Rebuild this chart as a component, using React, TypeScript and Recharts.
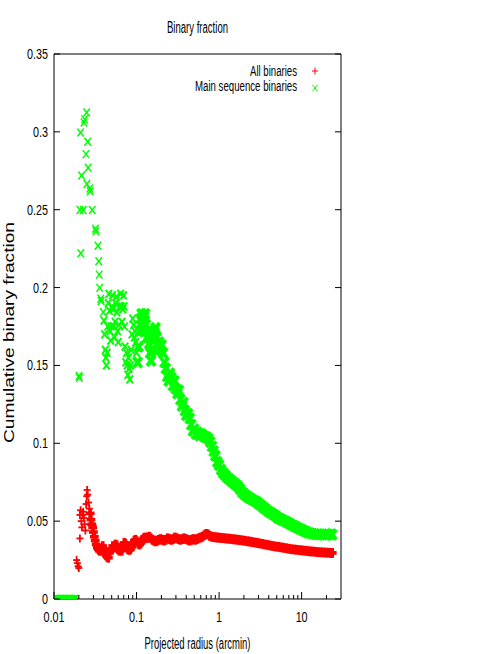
import React from "react";
import { ScatterChart, Scatter, XAxis, YAxis, Legend, Label } from "recharts";

// radii where both samples still have zero binaries
const zeroRadius = [
  0.0102, 0.0106, 0.011, 0.0114, 0.0118, 0.0122, 0.0127, 0.0132, 0.0137,
  0.0142, 0.0147, 0.0153, 0.0159, 0.0165, 0.0171, 0.0177, 0.0182,
];

// all binaries
const allRadius = [
  0.0188, 0.0192, 0.0196, 0.02, 0.0206, 0.0206, 0.021, 0.0214, 0.0218, 0.0222,
  0.0226, 0.023, 0.0235, 0.024, 0.0245, 0.0249, 0.0252, 0.0256, 0.0262, 0.0268,
  0.0274, 0.028, 0.0287, 0.0294, 0.03, 0.0308, 0.0316, 0.0325, 0.0335, 0.0345,
  0.0355, 0.0366, 0.0378, 0.039, 0.0402, 0.0415, 0.0428, 0.0442, 0.0455, 0.047,
  0.0485, 0.05, 0.0517, 0.0535, 0.0555, 0.0575, 0.0595, 0.0617, 0.064, 0.0662,
  0.0685, 0.071, 0.0735, 0.076, 0.0787, 0.0815, 0.0845, 0.0875, 0.0905, 0.094,
  0.0975, 0.101, 0.105, 0.109, 0.113, 0.117, 0.122, 0.127, 0.132, 0.137, 0.143,
  0.149, 0.156, 0.163, 0.17, 0.178, 0.186, 0.195, 0.205, 0.215, 0.226, 0.238,
  0.25, 0.263, 0.277, 0.292, 0.307, 0.323, 0.34, 0.358, 0.377, 0.397, 0.418,
  0.44, 0.463, 0.487, 0.513, 0.54, 0.568, 0.598, 0.63, 0.663, 0.698, 0.735,
  0.774, 0.815, 0.858, 0.903, 0.95, 1.0, 1.06, 1.12, 1.19, 1.26, 1.34, 1.42,
  1.51, 1.6, 1.7, 1.8, 1.92, 2.05, 2.2, 2.35, 2.5, 2.7, 2.9, 3.1, 3.35, 3.6,
  3.9, 4.2, 4.5, 4.85, 5.2, 5.6, 6.0, 6.5, 7.0, 7.5, 8.1, 8.7, 9.4, 10.1, 10.9,
  11.7, 12.6, 13.6, 14.6, 15.7, 16.9, 18.2, 19.6, 21.1, 22.7, 23.5,
];
const allFraction = [
  0.025, 0.023, 0.021, 0.0199, 0.0389, 0.054, 0.057, 0.05, 0.046, 0.054,
  0.056, 0.052, 0.048, 0.044, 0.061, 0.066, 0.07, 0.067, 0.062, 0.058,
  0.055, 0.051, 0.048, 0.046, 0.043, 0.04, 0.0375, 0.035, 0.033, 0.032,
  0.031, 0.032, 0.031, 0.034, 0.032, 0.03, 0.028, 0.027, 0.0265, 0.03,
  0.032, 0.0315, 0.034, 0.033, 0.035, 0.0345, 0.032, 0.031, 0.0325, 0.031,
  0.034, 0.036, 0.0355, 0.034, 0.032, 0.0315, 0.032, 0.0335, 0.036, 0.0375,
  0.038, 0.037, 0.0355, 0.035, 0.036, 0.038, 0.039, 0.0395, 0.039, 0.0395, 0.04,
  0.039, 0.038, 0.0375, 0.037, 0.0375, 0.038, 0.0385, 0.038, 0.0375, 0.038, 0.039,
  0.0385, 0.038, 0.0385, 0.0395, 0.039, 0.0385, 0.038, 0.0385, 0.039, 0.0385, 0.038,
  0.0375, 0.038, 0.0385, 0.038, 0.0385, 0.039, 0.0395, 0.04, 0.041, 0.0418, 0.0415,
  0.0405, 0.04, 0.0398, 0.0396, 0.0395, 0.0394, 0.0392, 0.0391, 0.0389, 0.0388, 0.0387, 0.0385,
  0.0383, 0.0382, 0.038, 0.0378, 0.0376, 0.0374, 0.0371, 0.0369, 0.0366, 0.0363, 0.036, 0.0357, 0.0354, 0.035,
  0.0347, 0.0343, 0.034, 0.0337, 0.0335, 0.0332, 0.0329, 0.0326, 0.0323, 0.032, 0.0318, 0.0316, 0.0314, 0.0312, 0.031,
  0.0308, 0.0306, 0.0305, 0.0303, 0.0301, 0.03, 0.0299, 0.0298, 0.0297, 0.0296, 0.0296,
];

// main sequence binaries
const msRadius = [
  0.0201, 0.0203, 0.0206, 0.021, 0.0211, 0.0216, 0.0226, 0.0231, 0.0235, 0.0244,
  0.0249, 0.025, 0.0256, 0.026, 0.0272, 0.0274, 0.0291, 0.0318, 0.0322, 0.0341,
  0.0348, 0.0353, 0.0357, 0.0369, 0.0372, 0.0395, 0.0403,
  0.041, 0.0418, 0.0425, 0.0432, 0.044, 0.0447, 0.0455, 0.0462, 0.047, 0.0478,
  0.0486, 0.0494, 0.0503, 0.0512, 0.052, 0.053, 0.054, 0.055, 0.056, 0.057,
  0.058, 0.059, 0.06, 0.0612, 0.0625, 0.064, 0.0655, 0.0668, 0.068, 0.0695,
  0.0705, 0.0715, 0.0725, 0.074, 0.0755, 0.077, 0.0785, 0.08, 0.0815, 0.083,
  0.0845, 0.086, 0.088, 0.09, 0.092, 0.094, 0.096, 0.098, 0.1, 0.103, 0.106,
  0.109, 0.112, 0.115, 0.118, 0.121, 0.124, 0.127, 0.13, 0.134, 0.138, 0.142,
  0.146, 0.15, 0.155, 0.16, 0.165, 0.17, 0.176, 0.182, 0.188, 0.195, 0.202,
  0.21, 0.218, 0.226, 0.235, 0.245, 0.255, 0.265, 0.276, 0.288, 0.3, 0.313,
  0.326, 0.34, 0.355, 0.37, 0.385, 0.4, 0.42, 0.44, 0.46, 0.48, 0.5, 0.525,
  0.55, 0.58, 0.61, 0.64, 0.67, 0.7, 0.74, 0.78, 0.82, 0.86, 0.9, 0.95, 1.0,
  1.06, 1.12, 1.19, 1.26, 1.34, 1.42, 1.51, 1.6, 1.7, 1.8, 1.92, 2.05, 2.2,
  2.35, 2.5, 2.7, 2.9, 3.1, 3.35, 3.6, 3.9, 4.2, 4.5, 4.85, 5.2, 5.6, 6.0, 6.5,
  7.0, 7.5, 8.1, 8.7, 9.4, 10.1, 10.9, 11.7, 12.6, 13.6, 14.6, 15.7, 16.9,
  18.2, 19.6, 21.1, 22.7, 23.5,
];
const msFraction = [
  0.1432, 0.142, 0.2498, 0.2996, 0.222, 0.272, 0.2498, 0.306, 0.308, 0.2857,
  0.3124, 0.2665, 0.2936, 0.277, 0.2636, 0.2618, 0.2498, 0.2378, 0.2362, 0.2269,
  0.2169, 0.2083, 0.1998, 0.1928, 0.1914, 0.1842, 0.1788,
  0.17, 0.16, 0.155, 0.15, 0.158, 0.175, 0.19, 0.196, 0.185, 0.172,
  0.166, 0.175, 0.188, 0.195, 0.186, 0.175, 0.168, 0.178, 0.19, 0.194,
  0.184, 0.172, 0.165, 0.176, 0.188, 0.196, 0.188, 0.178, 0.186, 0.195,
  0.188, 0.175, 0.162, 0.152, 0.158, 0.15, 0.144, 0.155, 0.148, 0.141,
  0.15, 0.16, 0.17, 0.18, 0.176, 0.168, 0.172, 0.165, 0.158, 0.152, 0.162,
  0.172, 0.18, 0.183, 0.178, 0.172, 0.181, 0.183, 0.176, 0.168, 0.172, 0.164,
  0.158, 0.153, 0.16, 0.166, 0.171, 0.174, 0.168, 0.162, 0.165, 0.16, 0.163,
  0.158, 0.152, 0.148, 0.143, 0.14, 0.145, 0.142, 0.137, 0.14, 0.135, 0.132,
  0.134, 0.128, 0.124, 0.126, 0.121, 0.118, 0.119, 0.116, 0.112, 0.108, 0.109, 0.106,
  0.107, 0.105, 0.106, 0.105, 0.104, 0.104, 0.103, 0.101, 0.098, 0.095, 0.092, 0.088, 0.086,
  0.083, 0.081, 0.0795, 0.078, 0.0768, 0.0757, 0.0745, 0.0735, 0.0722, 0.0705, 0.0685, 0.067, 0.0658,
  0.0648, 0.064, 0.063, 0.0621, 0.0608, 0.0594, 0.058, 0.0565, 0.0555, 0.0545, 0.0533, 0.052, 0.0512, 0.0505, 0.0496,
  0.0487, 0.0478, 0.0469, 0.0461, 0.0452, 0.0444, 0.0436, 0.0429, 0.0423, 0.0419, 0.0417, 0.0415, 0.0414,
  0.0414, 0.0414, 0.0414, 0.0414, 0.0414,
];

const xTicks = [
  0.01, 0.02, 0.03, 0.04, 0.05, 0.06, 0.07, 0.08, 0.09, 0.1, 0.2, 0.3, 0.4,
  0.5, 0.6, 0.7, 0.8, 0.9, 1, 2, 3, 4, 5, 6, 7, 8, 9, 10, 20,
];
const xLabelled = [0.01, 0.1, 1, 10];
const yTicks = [0, 0.05, 0.1, 0.15, 0.2, 0.25, 0.3, 0.35];

const RED = "#ff0000";
const GREEN = "#00ff00";
const FONT = "'Liberation Sans', Arial, sans-serif";

const allData = [
  ...zeroRadius.map((r) => ({ r, f: 0 })),
  ...allRadius.map((r, i) => ({ r, f: allFraction[i] })),
];
const msData = [
  ...zeroRadius.map((r) => ({ r, f: 0 })),
  ...msRadius.map((r, i) => ({ r, f: msFraction[i] })),
];

function PlusMark({ cx, cy, w = 1.3, s = 3.5 }: any) {
  return (
    <g stroke={RED} strokeWidth={w}>
      <line x1={cx - s} x2={cx + s} y1={cy} y2={cy} />
      <line x1={cx} x2={cx} y1={cy - s - 0.5} y2={cy + s + 0.5} />
    </g>
  );
}

function CrossMark({ cx, cy, w = 1.3, s = 3.2 }: any) {
  return (
    <g stroke={GREEN} strokeWidth={w}>
      <line x1={cx - s} x2={cx + s} y1={cy - s * 1.25} y2={cy + s * 1.25} />
      <line x1={cx - s} x2={cx + s} y1={cy + s * 1.25} y2={cy - s * 1.25} />
    </g>
  );
}

// the sampled band is drawn with heavier marks so the overlapping points read as one ribbon
function redShape(p: any) {
  const dense = p.payload && p.payload.r > 0.027;
  return <PlusMark cx={p.cx} cy={p.cy} w={dense ? 3.6 : 1.8} s={dense ? 4.4 : 3.5} />;
}

function greenShape(p: any) {
  const dense = p.payload && p.payload.r > 0.1;
  const mid = p.payload && p.payload.r > 0.04;
  return (
    <CrossMark
      cx={p.cx}
      cy={p.cy}
      w={dense ? 3.8 : mid ? 2 : 1.5}
      s={dense ? 4 : 3.2}
    />
  );
}

function TickText({ x, y, anchor, children }: any) {
  return (
    <g transform={`translate(${x},${y}) scale(0.72,1)`}>
      <text x={0} y={0} textAnchor={anchor} fontFamily={FONT} fontSize={15} fill="#000">
        {children}
      </text>
    </g>
  );
}

// custom ticks: (x, y) is the point on the axis line because tickSize and tickMargin are 0
function BottomTick(props: any) {
  const { x, y, payload } = props;
  const major = xLabelled.includes(payload.value);
  return (
    <g>
      <line x1={x} x2={x} y1={y} y2={y - (major ? 7 : 4)} stroke="#000" />
      {major && (
        <TickText x={x} y={y + 23} anchor="middle">
          {String(payload.value)}
        </TickText>
      )}
    </g>
  );
}

function TopTick(props: any) {
  const { x, y, payload } = props;
  const major = xLabelled.includes(payload.value);
  return <line x1={x} x2={x} y1={y} y2={y + (major ? 7 : 4)} stroke="#000" />;
}

function LeftTick(props: any) {
  const { x, y, payload } = props;
  return (
    <g>
      <line x1={x} x2={x + 6} y1={y} y2={y} stroke="#000" />
      <TickText x={x - 6} y={y + 5} anchor="end">
        {String(payload.value)}
      </TickText>
    </g>
  );
}

function RightTick(props: any) {
  const { x, y } = props;
  return <line x1={x} x2={x - 6} y1={y} y2={y} stroke="#000" />;
}

function LegendBox(props: any) {
  const items = props.payload || [];
  const widths = [47, 102];
  return (
    <svg width={170} height={40} style={{ display: "block", overflow: "visible" }}>
      {items.map((item: any, i: number) => (
        <g key={i}>
          <text
            x={127 - widths[i]}
            y={16 + i * 15}
            textLength={widths[i]}
            lengthAdjust="spacingAndGlyphs"
            fontFamily={FONT}
            fontSize={14}
            fill="#000"
          >
            {item.value}
          </text>
          {i === 0 ? (
            <PlusMark cx={145} cy={11} w={1} s={3} />
          ) : (
            <CrossMark cx={145} cy={28} w={1} s={2.6} />
          )}
        </g>
      ))}
    </svg>
  );
}

export default function App() {
  return (
    <div style={{ position: "absolute", left: 0, top: 0, width: 491, height: 654, background: "#fff" }}>
      <ScatterChart
        width={491}
        height={654}
        margin={{ top: 34, right: 130, bottom: 25, left: 14 }}
      >
        <XAxis
          xAxisId={0}
          dataKey="r"
          type="number"
          scale="log"
          domain={[0.01, 30]}
          allowDataOverflow
          ticks={xTicks}
          interval={0}
          height={30}
          tickSize={0}
          tickMargin={0}
          tickLine={false}
          tick={<BottomTick />}
          axisLine={{ stroke: "#000" }}
        >
          <Label
            content={(p: any) => {
              const vb = p.viewBox;
              return (
                <text
                  x={vb.x + vb.width / 2}
                  y={vb.y + 50}
                  textAnchor="middle"
                  textLength={106}
                  lengthAdjust="spacingAndGlyphs"
                  fontFamily={FONT}
                  fontSize={16}
                  fill="#000"
                >
                  Projected radius (arcmin)
                </text>
              );
            }}
          />
        </XAxis>
        <XAxis
          xAxisId="top"
          orientation="top"
          type="number"
          scale="log"
          domain={[0.01, 30]}
          allowDataOverflow
          ticks={xTicks}
          interval={0}
          height={20}
          tickSize={0}
          tickMargin={0}
          tickLine={false}
          tick={<TopTick />}
          axisLine={{ stroke: "#000" }}
        >
          <Label
            content={(p: any) => {
              const vb = p.viewBox;
              return (
                <text
                  x={vb.x + vb.width / 2}
                  y={vb.y + vb.height - 21}
                  textAnchor="middle"
                  textLength={61}
                  lengthAdjust="spacingAndGlyphs"
                  fontFamily={FONT}
                  fontSize={16}
                  fill="#000"
                >
                  Binary fraction
                </text>
              );
            }}
          />
        </XAxis>
        <YAxis
          yAxisId={0}
          dataKey="f"
          type="number"
          domain={[0, 0.35]}
          allowDataOverflow
          ticks={yTicks}
          interval={0}
          width={40}
          tickSize={0}
          tickMargin={0}
          tickLine={false}
          tick={<LeftTick />}
          axisLine={{ stroke: "#000" }}
        >
          <Label
            content={(p: any) => {
              const vb = p.viewBox;
              const cy = vb.y + vb.height / 2 + 6;
              return (
                <text
                  x={14}
                  y={cy}
                  transform={`rotate(-90 14 ${cy})`}
                  textAnchor="middle"
                  textLength={221}
                  lengthAdjust="spacingAndGlyphs"
                  fontFamily={FONT}
                  fontSize={15}
                  fill="#000"
                >
                  Cumulative binary fraction
                </text>
              );
            }}
          />
        </YAxis>
        <YAxis
          yAxisId="right"
          orientation="right"
          type="number"
          domain={[0, 0.35]}
          allowDataOverflow
          ticks={yTicks}
          interval={0}
          width={20}
          tickSize={0}
          tickMargin={0}
          tickLine={false}
          tick={<RightTick />}
          axisLine={{ stroke: "#000" }}
        />
        <Legend
          layout="vertical"
          align="center"
          verticalAlign="middle"
          wrapperStyle={{ left: 170, top: 60, width: 170, height: 40 }}
          content={<LegendBox />}
        />
        <Scatter
          name="All binaries"
          data={allData}
          fill={RED}
          isAnimationActive={false}
          shape={redShape}
        />
        <Scatter
          name="Main sequence binaries"
          data={msData}
          fill={GREEN}
          isAnimationActive={false}
          shape={greenShape}
        />
      </ScatterChart>
    </div>
  );
}
